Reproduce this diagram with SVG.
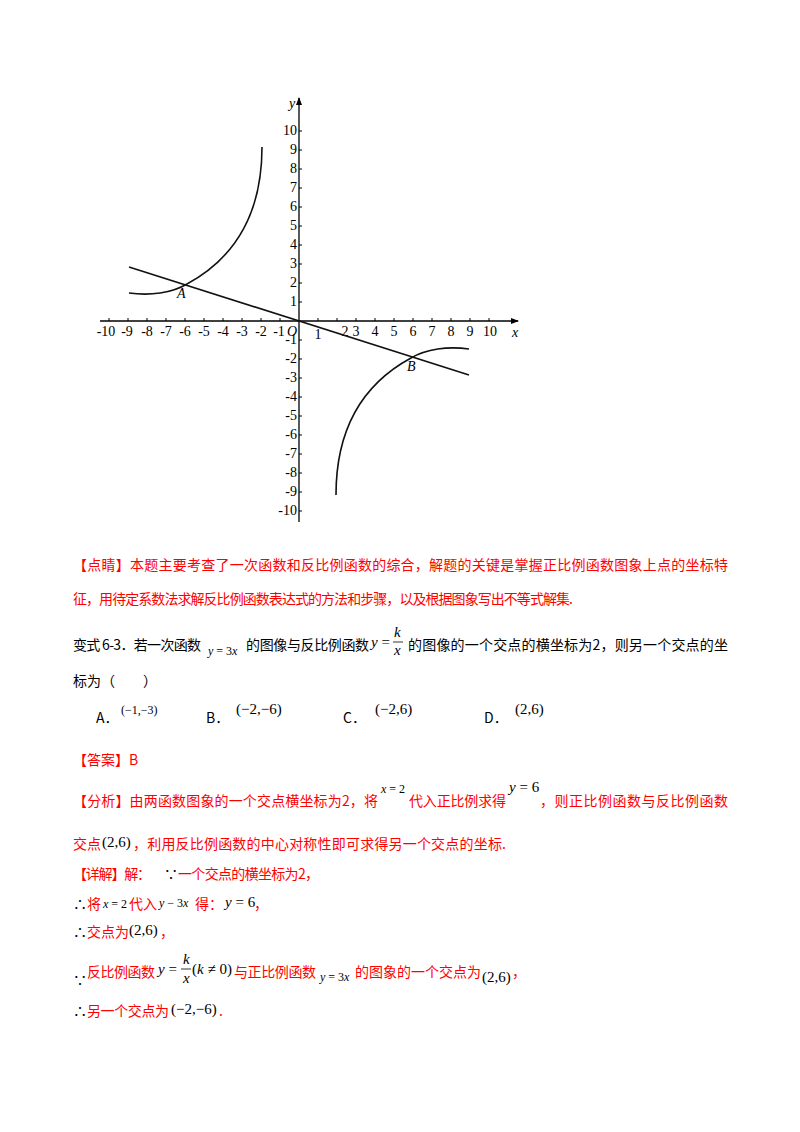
<svg xmlns="http://www.w3.org/2000/svg" width="800" height="1132" viewBox="0 0 800 1132">
<style>
.ax{stroke:#000;stroke-width:1.3;fill:none}
.cv{stroke:#111;stroke-width:1.6;fill:none}
.tk{font-family:"Liberation Serif",serif;font-size:14px;fill:#000}
.it{font-family:"Liberation Serif",serif;font-style:italic;font-size:14px;fill:#000}
.r{font-family:"Noto Sans CJK SC",sans-serif;font-size:14px;fill:#ff0000}
.b{font-family:"Noto Sans CJK SC",sans-serif;font-size:14px;fill:#000}
.m{font-family:"Liberation Serif",serif;font-size:15px;fill:#000}
.ms{font-family:"Liberation Serif",serif;font-size:12px;fill:#000}
.mi{font-style:italic}
</style>
<defs><marker id="ar" markerWidth="8" markerHeight="8" refX="7" refY="4" orient="auto" markerUnits="userSpaceOnUse"><path d="M0,1 L8,4 L0,7Z" fill="#000"/></marker></defs>
<g id="axes">
<line class="ax" x1="100" y1="321" x2="518" y2="321" marker-end="url(#ar)"/>
<line class="ax" x1="299" y1="522" x2="299" y2="98" marker-end="url(#ar)"/>
<g stroke="#000" stroke-width="1">
<path d="M109,321v-3M128,321v-3M147,321v-3M166,321v-3M185,321v-3M204,321v-3M223,321v-3M242,321v-3M261,321v-3M280,321v-3M318,321v-3M337,321v-3M356,321v-3M375,321v-3M394,321v-3M413,321v-3M432,321v-3M451,321v-3M470,321v-3M489,321v-3"/>
<path d="M299,131h3M299,150h3M299,169h3M299,188h3M299,207h3M299,226h3M299,245h3M299,264h3M299,283h3M299,302h3M299,340h3M299,359h3M299,378h3M299,397h3M299,416h3M299,435h3M299,454h3M299,473h3M299,492h3M299,511h3"/>
</g>
<text class="it" x="289" y="108">y</text>
<text class="it" x="512" y="337">x</text>
<g class="tk" text-anchor="middle">
<text x="106" y="336">-10</text><text x="127" y="336">-9</text><text x="147" y="336">-8</text><text x="166" y="336">-7</text><text x="185" y="336">-6</text><text x="204" y="336">-5</text><text x="223" y="336">-4</text><text x="242" y="336">-3</text><text x="261" y="336">-2</text><text x="279" y="336">-1</text>
<text x="318" y="339">1</text><text x="345" y="336">2</text><text x="356" y="336">3</text><text x="375" y="336">4</text><text x="394" y="336">5</text><text x="413" y="336">6</text><text x="432" y="336">7</text><text x="451" y="336">8</text><text x="470" y="336">9</text><text x="490" y="336">10</text>
</g>
<text class="it" x="287" y="336">O</text>
<g class="tk" text-anchor="end">
<text x="297" y="135">10</text><text x="297" y="154">9</text><text x="297" y="173">8</text><text x="297" y="192">7</text><text x="297" y="211">6</text><text x="297" y="230">5</text><text x="297" y="249">4</text><text x="297" y="268">3</text><text x="297" y="287">2</text><text x="297" y="306">1</text>
<text x="297" y="344">-1</text><text x="297" y="363">-2</text><text x="297" y="382">-3</text><text x="297" y="401">-4</text><text x="297" y="420">-5</text><text x="297" y="439">-6</text><text x="297" y="458">-7</text><text x="297" y="477">-8</text><text x="297" y="496">-9</text><text x="297" y="515">-10</text>
</g>
</g>
<g id="curves">
<line class="cv" x1="129" y1="267" x2="469" y2="375"/>
<path class="cv" d="M129,293 C150,296 172,293 187,284 C235,258 262,215 262,147"/>
<path class="cv" d="M469,349 C448,346 426,349 411,358 C363,384 336,427 336,495"/>
<text class="it" x="177" y="298">A</text>
<text class="it" x="407" y="371">B</text>
</g>
<g id="text">
<text class="r" x="73" y="570" textLength="655" lengthAdjust="spacing">【点睛】本题主要考查了一次函数和反比例函数的综合，解题的关键是掌握正比例函数图象上点的坐标特</text>
<text class="r" x="73" y="604" textLength="500" lengthAdjust="spacing">征，用待定系数法求解反比例函数表达式的方法和步骤，以及根据图象写出不等式解集.</text>
<text class="b" x="73" y="650" textLength="128" lengthAdjust="spacing">变式 6-3．若一次函数</text>
<text class="ms" x="208" y="655"><tspan class="mi">y</tspan> = 3<tspan class="mi">x</tspan></text>
<text class="b" x="246" y="650" textLength="123" lengthAdjust="spacing">的图像与反比例函数</text>
<text class="m" x="371" y="647"><tspan class="mi">y</tspan> =</text>
<text class="m mi" x="394" y="637" font-size="13">k</text>
<line x1="393" y1="642" x2="403" y2="642" stroke="#000" stroke-width="0.8"/>
<text class="m mi" x="394" y="655" font-size="13">x</text>
<text class="b" x="408" y="650" textLength="320" lengthAdjust="spacing">的图像的一个交点的横坐标为2，则另一个交点的坐</text>
<text class="b" x="73" y="686">标为（　　）</text>
<text class="b" x="96" y="723">A．</text><text class="ms" x="121" y="714">(−1,−3)</text>
<text class="b" x="206" y="723">B．</text><text class="m" x="236" y="714">(−2,−6)</text>
<text class="b" x="343" y="723">C．</text><text class="m" x="375" y="714">(−2,6)</text>
<text class="b" x="484" y="723">D．</text><text class="m" x="515" y="714">(2,6)</text>
<text class="r" x="73" y="765">【答案】B</text>
<text class="r" x="73" y="806" textLength="305" lengthAdjust="spacing">【分析】由两函数图象的一个交点横坐标为2，将</text>
<text class="ms" x="381" y="793"><tspan class="mi">x</tspan> = 2</text>
<text class="r" x="409" y="806" textLength="97" lengthAdjust="spacing">代入正比例求得</text>
<text class="m" x="509" y="792"><tspan class="mi">y</tspan> = 6</text>
<text class="r" x="540" y="806" textLength="188" lengthAdjust="spacing">，则正比例函数与反比例函数</text>
<text class="r" x="73" y="849">交点</text><text class="m" x="102" y="847">(2,6)</text>
<text class="r" x="133" y="849" textLength="373" lengthAdjust="spacing">，利用反比例函数的中心对称性即可求得另一个交点的坐标.</text>
<text class="r" x="73" y="879" textLength="78" lengthAdjust="spacing">【详解】解：</text>
<text class="b" x="164" y="879">∵</text><text class="r" x="178" y="879" textLength="141" lengthAdjust="spacing">一个交点的横坐标为2，</text>
<text class="b" x="73" y="909">∴</text><text class="r" x="87" y="909">将</text>
<text class="ms" x="103" y="908"><tspan class="mi">x</tspan> = 2</text>
<text class="r" x="129" y="909">代入</text>
<text class="ms" x="159" y="907"><tspan class="mi">y</tspan> − 3<tspan class="mi">x</tspan></text>
<text class="r" x="195" y="909">得：</text>
<text class="m" x="225" y="907"><tspan class="mi">y</tspan> = 6</text>
<text class="r" x="254" y="909">，</text>
<text class="b" x="73" y="937">∴</text><text class="r" x="87" y="937">交点为</text><text class="m" x="129" y="935">(2,6)</text><text class="r" x="160" y="937">，</text>
<text class="b" x="73" y="985">∵</text>
<text class="r" x="87" y="977" textLength="68" lengthAdjust="spacing">反比例函数</text>
<text class="m" x="158" y="974"><tspan class="mi">y</tspan> =</text>
<text class="m mi" x="183" y="964" font-size="13">k</text>
<line x1="181" y1="969" x2="191" y2="969" stroke="#000" stroke-width="0.8"/>
<text class="m mi" x="183" y="983" font-size="13">x</text>
<text class="m" x="192" y="974">(<tspan class="mi">k</tspan> ≠ 0)</text>
<text class="r" x="234" y="977" textLength="82" lengthAdjust="spacing">与正比例函数</text>
<text class="ms" x="320" y="981"><tspan class="mi">y</tspan> = 3<tspan class="mi">x</tspan></text>
<text class="r" x="355" y="977" textLength="126" lengthAdjust="spacing">的图象的一个交点为</text>
<text class="m" x="482" y="982">(2,6)</text>
<text class="r" x="512" y="977">，</text>
<text class="b" x="73" y="1016">∴</text><text class="r" x="87" y="1016" textLength="82" lengthAdjust="spacing">另一个交点为</text><text class="m" x="171" y="1014">(−2,−6)</text><text class="r" x="219" y="1016">.</text>
</g>
</svg>
